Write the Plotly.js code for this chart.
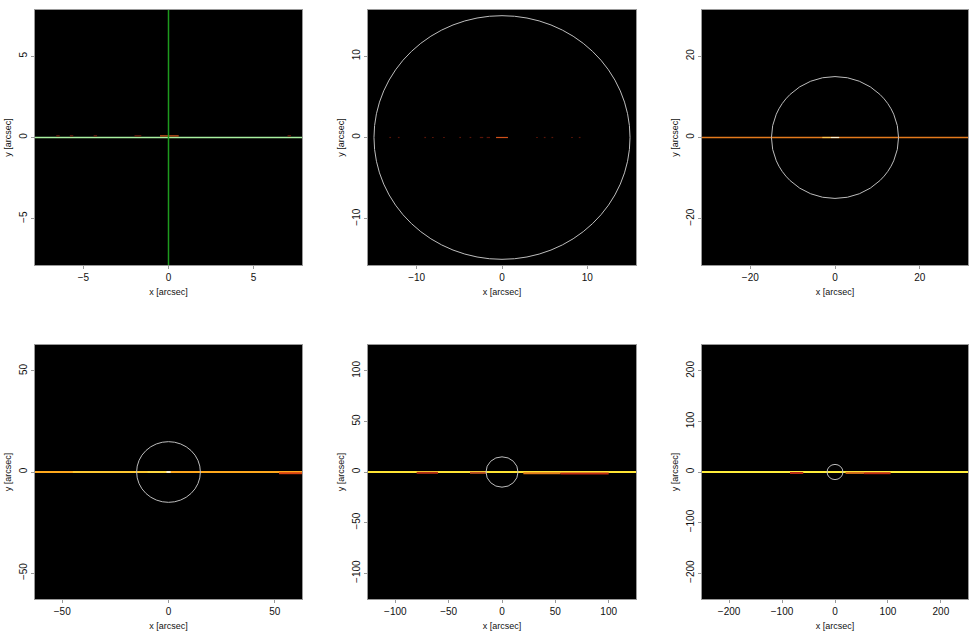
<!DOCTYPE html>
<html>
<head>
<meta charset="utf-8">
<script src="https://cdn.plot.ly/plotly-3.0.1.min.js"></script>
<style>html,body{margin:0;padding:0;background:#fff}#chart{width:979px;height:639px}</style>
</head>
<body>
<div id="chart"></div>
<script>
// ---- data ----
const halfRanges = [7.85, 15.7, 31.4, 62.8, 125.6, 251.2];   // axis half-widths [arcsec]
const tickVals = [
  [-5, 0, 5],
  [-10, 0, 10],
  [-20, 0, 20],
  [-50, 0, 50],
  [-100, -50, 0, 50, 100],
  [-200, -100, 0, 100, 200]
];
const ringRadius = 15;          // circle radius [arcsec]
const crossX = 0;               // green marker line (panel 1)
// base emission line along y=0 for each panel (null = none)
const baseColors = ['#a8f0a0', null, '#e47a1c', '#ffa81c', '#ffe433', '#ffee3a'];
// emission features: panel index, x start, x end, y offset, colour
const featPanel = [0,0,0,0,0,0, 1,1,1,1,1,1,1,1,1,1,1,1,1,1,1, 2,2, 3,3,3,3, 4,4,4,4, 5,5,5];
const featX0 = [-6.6,-5.8,-4.4,-2.0,-0.5,7.0, -13.2,-12.2,-9.1,-8.2,-6.9,-5.0,-3.8,-2.6,-1.8,-0.7,4.0,4.9,5.8,8.1,9.0, -3,-1, -45,-10,-1,52, -80,20,55,-30, -85,20,55];
const featX1 = [-6.4,-5.6,-4.2,-1.6,0.6,7.2, -13.0,-12.0,-8.9,-8.0,-6.7,-4.8,-3.6,-2.2,-1.4,0.7,4.2,5.1,6.0,8.3,9.2, -1,1, -10,-1,1,62.8, -60,55,100,-15, -60,55,105];
const featY = [0.1,0.1,0.1,0.1,0.1,0.1, 0,0,0,0,0,0,0,0,0,0,0,0,0,0,0, 0,0, 0,0,0,-0.6, -0.8,-1.2,-1.6,-0.8, -2,-1.8,-2.4];
const featColor = ['#7a2010','#7a2010','#7a2010','#7a2010','#d8581a','#7a2010', '#5a1408','#5a1408','#5a1408','#5a1408','#5a1408','#5a1408','#5a1408','#5a1408','#5a1408','#d0501a','#5a1408','#5a1408','#5a1408','#5a1408','#5a1408', '#ffc850','#fff4d0', '#ffc830','#ffd840','#fff4d0','#d84010', '#b83014','#e07a1a','#c02a14','#c05020', '#b82a14','#d8701a','#c02a12'];

// ---- layout geometry ----
const W = 979, H = 639;
const colX = [[35, 302], [368, 636], [702, 968]];
const rowY = [[10, 265], [345, 599]];

const traces = [];
const layout = {
  width: W, height: H,
  margin: {l: 0, r: 0, t: 0, b: 0},
  paper_bgcolor: '#ffffff',
  plot_bgcolor: '#000000',
  showlegend: false,
  font: {family: 'Liberation Sans, Arial, sans-serif', size: 10, color: '#111'},
  shapes: []
};

for (let p = 0; p < 6; p++) {
  const r = halfRanges[p];
  const col = p % 3, row = Math.floor(p / 3);
  const sx = p === 0 ? '' : String(p + 1);
  const xa = 'x' + sx, ya = 'y' + sx;
  const axCommon = {
    range: [-r, r], showgrid: false, zeroline: false,
    showline: true, linecolor: '#999', linewidth: 1, mirror: true,
    ticks: 'outside', ticklen: 3, tickcolor: '#999',
    tickvals: tickVals[p],
    tickfont: {size: 10, color: '#111'},
    fixedrange: true
  };
  layout['xaxis' + sx] = Object.assign({}, axCommon, {
    domain: [colX[col][0] / W, colX[col][1] / W],
    anchor: ya,
    title: {text: 'x [arcsec]', font: {size: 9, color: '#111'}, standoff: 6}
  });
  layout['yaxis' + sx] = Object.assign({}, axCommon, {
    domain: [1 - rowY[row][1] / H, 1 - rowY[row][0] / H],
    anchor: xa,
    tickangle: -90,
    title: {text: 'y [arcsec]', font: {size: 9, color: '#111'}, standoff: 4}
  });

  if (baseColors[p]) {
    traces.push({
      type: 'scatter', mode: 'lines', xaxis: xa, yaxis: ya,
      x: [-r, r], y: [0, 0],
      line: {color: baseColors[p], width: p >= 3 ? 2 : 1.5},
      hoverinfo: 'skip'
    });
  }
  for (let i = 0; i < featPanel.length; i++) {
    if (featPanel[i] !== p) continue;
    traces.push({
      type: 'scatter', mode: 'lines', xaxis: xa, yaxis: ya,
      x: [featX0[i], featX1[i]], y: [featY[i], featY[i]],
      line: {color: featColor[i], width: p >= 3 ? 2 : 1.2},
      hoverinfo: 'skip'
    });
  }
  if (p === 0) {
    traces.push({
      type: 'scatter', mode: 'lines', xaxis: xa, yaxis: ya,
      x: [crossX, crossX], y: [-r, r],
      line: {color: '#1e9a1e', width: 1.5}, hoverinfo: 'skip'
    });
  }
  layout.shapes.push({
    type: 'circle', xref: xa, yref: ya,
    x0: -ringRadius, x1: ringRadius, y0: -ringRadius, y1: ringRadius,
    line: {color: '#bdbdbd', width: 1}, layer: 'above'
  });
}

Plotly.newPlot('chart', traces, layout, {displayModeBar: false, staticPlot: true});
</script>
</body>
</html>
